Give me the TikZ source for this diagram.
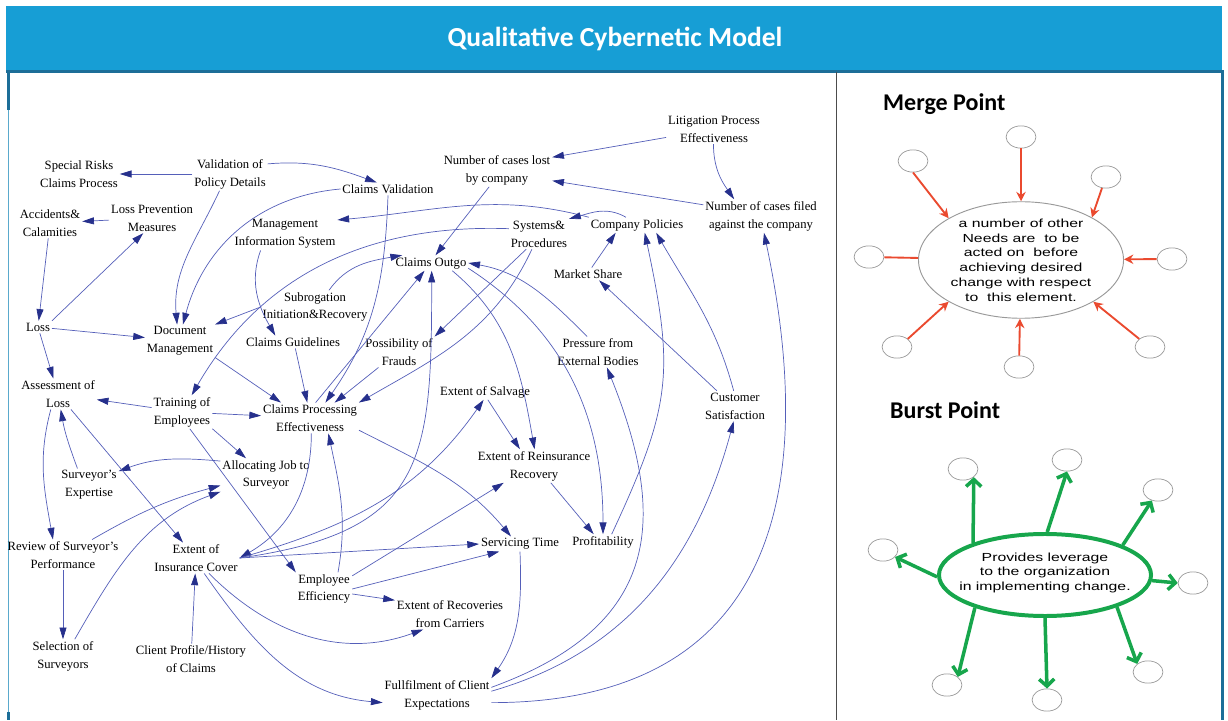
\documentclass[tikz,border=0pt]{standalone}
\usepackage{fontspec}
\setmainfont{Liberation Serif}
\newfontfamily\headfont{Carlito}
\newfontfamily\mergefont[FakeStretch=1.35]{Liberation Sans}
\usetikzlibrary{arrows.meta,shapes.geometric}

\definecolor{barblue}{HTML}{179ED5}
\definecolor{edgeblue}{HTML}{1C6E98}
\definecolor{sideblue}{HTML}{5AA9CC}
\definecolor{linkline}{RGB}{85,95,185}
\definecolor{tipnavy}{RGB}{38,48,140}
\definecolor{mergered}{HTML}{EA4A2F}
\definecolor{burstgreen}{HTML}{17A64C}
\definecolor{ringgray}{gray}{0.6}

\begin{document}
\begin{tikzpicture}[x=0.03cm, y=0.03cm,
    >={Triangle[length=10pt,width=6pt,color=tipnavy]},
    lbl/.style={align=center, inner sep=1.5pt, font=\fontsize{10.8}{15.3}\selectfont},
    lnk/.style={draw=linkline, line width=0.6pt, ->},
    head/.style={anchor=west, inner sep=0pt, font=\headfont\bfseries\fontsize{20.5}{24}\selectfont},
    sat/.style={ellipse, draw=ringgray, line width=0.6pt, minimum width=25.5pt, minimum height=19pt, inner sep=0pt},
    redarr/.style={draw=mergered, line width=1.6pt, -{Stealth[length=8pt,width=8pt]}},
    grnarr/.style={draw=burstgreen, line width=3pt, -{Straight Barb[length=6pt,width=13pt]}}]
  \useasboundingbox (0,0) rectangle (1228,720);

  % frame and title bar
  \fill[barblue] (6,650) rectangle (1222,714);
  \draw[edgeblue, line width=2.5pt] (6,648.5) -- (1224,648.5);
  \draw[sideblue, line width=0.8pt] (8,648) -- (8,0);
  \draw[edgeblue, line width=2.5pt] (8.5,648) -- (8.5,610) (8.5,8) -- (8.5,0);
  \draw[edgeblue, line width=2.5pt] (1222.5,648) -- (1222.5,0);
  \draw[black!70, line width=0.7pt] (836,648) -- (836,0);
  \node[text=white, font=\headfont\bfseries\fontsize{23.5}{28}\selectfont] (title) at (615,681) {Qualitative Cybernetic Model};

  % the model
  \node[lbl] (sr) at (79,546) {Special Risks\\Claims Process};
  \node[lbl] (vpd) at (230,546) {Validation of\\Policy Details};
  \node[lbl] (cv) at (388,531) {Claims Validation};
  \node[lbl] (ac) at (50,497) {Accidents\&\\Calamities};
  \node[lbl] (lpm) at (152,502) {Loss Prevention\\Measures};
  \node[lbl] (mis) at (285,486) {Management\\Information System};
  \node[lbl] (ncl) at (497,550) {Number of cases lost\\by company};
  \node[lbl] (lpe) at (714,591) {Litigation Process\\Effectiveness};
  \node[lbl] (ncf) at (761,504) {Number of cases filed\\against the company};
  \node[lbl] (sp) at (539,486) {Systems\&\\Procedures};
  \node[lbl] (cpol) at (637,495) {Company Policies};
  \node[lbl] (co) at (431,457) {Claims Outgo};
  \node[lbl] (ms) at (588,446) {Market Share};
  \node[lbl] (sir) at (315,413) {Subrogation\\Initiation\&Recovery};
  \node[lbl] (loss) at (38,393) {Loss};
  \node[lbl] (dm) at (180,379) {Document\\Management};
  \node[lbl] (cg) at (293,378) {Claims Guidelines};
  \node[lbl] (pof) at (399,368) {Possibility of\\Frauds};
  \node[lbl] (pfe) at (598,368) {Pressure from\\External Bodies};
  \node[lbl] (aol) at (58,326) {Assessment of\\Loss};
  \node[lbl] (toe) at (182,308) {Training of\\Employees};
  \node[lbl] (cpe) at (310,302) {Claims Processing\\Effectiveness};
  \node[lbl] (eos) at (485,328) {Extent of Salvage};
  \node[lbl] (cs) at (735,314) {Customer\\Satisfaction};
  \node[lbl] (err) at (534,254) {Extent of Reinsurance\\Recovery};
  \node[lbl] (se) at (89,235) {Surveyor's\\Expertise};
  \node[lbl] (ajs) at (266,245) {Allocating Job to\\Surveyor};
  \node[lbl] (rsp) at (63,165) {Review of Surveyor's\\Performance};
  \node[lbl] (eic) at (196,162) {Extent of\\Insurance Cover};
  \node[lbl] (st) at (520,176) {Servicing Time};
  \node[lbl] (prof) at (603,178) {Profitability};
  \node[lbl] (ee) at (324,131) {Employee\\Efficiency};
  \node[lbl] (erc) at (450,106) {Extent of Recoveries\\from Carriers};
  \node[lbl] (sos) at (63,64) {Selection of\\Surveyors};
  \node[lbl] (cph) at (191,61) {Client Profile/History\\of Claims};
  \node[lbl] (fce) at (437,25) {Fullfilment of Client\\Expectations};

  \draw[lnk] (vpd) -- (sr);
  \draw[lnk] (vpd.15) to[out=5,in=160] (cv.150);
  \draw[lnk] (vpd.-122) to[out=-115,in=95] (dm.100);
  \draw[lnk] (cv.west) to[out=185,in=75] (dm.80);
  \draw[lnk] (lpm) -- (ac);
  \draw[lnk] (ac) -- (loss);
  \draw[lnk] (loss.north east) -- (lpm.-120);
  \draw[lnk] (loss) -- (dm);
  \draw[lnk] (loss) -- (aol);
  \draw[lnk] (cpol.north west) to[out=165,in=5] (mis.15);
  \draw[lnk] (sp.170) to[out=178,in=60] (toe.60);
  \draw[lnk] (cpol.145) to[out=150,in=15] (sp.north east);
  \draw[lnk] (lpe.190) -- (ncl.13);
  \draw[lnk] (lpe.-92) to[out=-90,in=125] (ncf.148);
  \draw[lnk] (ncf.169) -- (ncl.-11);
  \draw[lnk] (ncl.-115) -- (co.60);
  \draw[lnk] (mis.214) to[out=-110,in=120] (cg.160);
  \draw[lnk] (sir.50) to[out=55,in=190] (co.165);
  \draw[lnk] (sir.west) -- (dm.north east);
  \draw[lnk] (cv.south) to[out=-92,in=55] (cpe.45);
  \draw[lnk] (pof.217) -- (cpe.32);
  \draw[lnk] (sp.-115) to[out=-115,in=30] (cpe.north east);
  \draw[lnk] (sp.-130) -- (pof.north east);
  \draw[lnk] (cpe.70) -- (co.230);
  \draw[lnk] (cg.-70) -- (cpe.100);
  \draw[lnk] (dm.south east) -- (cpe.152);
  \draw[lnk] (toe) -- (cpe);
  \draw[lnk] (toe) -- (aol);
  \draw[lnk] (toe.south east) -- (ajs.140);
  \draw[lnk] (toe.-65) -- (ee.north west);
  \draw[lnk] (ajs.163) to[out=175,in=20] (se.25);
  \draw[lnk] (se.125) to[out=110,in=-80] (aol.-80);
  \draw[lnk] (aol.-115) to[out=-105,in=100] (rsp.123);
  \draw[lnk] (aol.-50) -- (eic.130);
  \draw[lnk] (rsp.28) to[out=30,in=195] (ajs.193);
  \draw[lnk] (rsp) -- (sos);
  \draw[lnk] (sos.55) to[out=60,in=200] (ajs.south west);
  \draw[lnk] (cph) -- (eic);
  \draw[lnk] (cpe.-85) to[out=-90,in=30] (eic.east);
  \draw[lnk] (ee.50) to[out=80,in=-78] (cpe.-40);
  \draw[lnk] (eic.east) to[out=8,in=-90,looseness=1.4] (co.-85);
  \draw[lnk] (eic.east) to[out=16,in=-125] (eos.-100);
  \draw[lnk] (eic.east) -- (st.west);
  \draw[lnk] (ee.east) -- (st.200);
  \draw[lnk] (ee.25) -- (err.209);
  \draw[lnk] (ee.-10) -- (erc.166);
  \draw[lnk] (eic.-50) to[out=-45,in=200] (erc.-150);
  \draw[lnk] (eic.-62) to[out=-55,in=175] (fce.188);
  \draw[lnk] (cpe.-14) to[out=-27,in=130] (st.140);
  \draw[lnk] (st.south) to[out=-88,in=55] (fce.north east);
  \draw[lnk] (fce.8) to[out=20,in=-68,looseness=1.3] (pfe.-60);
  \draw[lnk] (fce.4) to[out=16,in=-105] (cs.-95);
  \draw[lnk] (fce.-8) to[out=0,in=-78,looseness=1.3] (ncf.-80);
  \draw[lnk] (prof.42) to[out=65,in=-78,looseness=1.2] (cpol.-45);
  \draw[lnk] (cs.95) to[out=105,in=-60] (cpol.-22);
  \draw[lnk] (cs.140) -- (ms.-30);
  \draw[lnk] (ms.60) -- (cpol.200);
  \draw[lnk] (co.-20) to[out=-40,in=100] (err.88);
  \draw[lnk] (co.-8) to[out=-33,in=90] (prof.north);
  \draw[lnk] (pfe.125) to[out=135,in=-10] (co.east);
  \draw[lnk] (eos.-70) -- (err.130);
  \draw[lnk] (err.-45) -- (prof.140);

  % merge point
  \node[head] (mhead) at (883,616) {Merge Point};
  \node[ellipse, draw=ringgray, line width=0.8pt, minimum width=175pt, minimum height=97pt, inner sep=0pt,
        font=\mergefont\fontsize{10}{12.6}\selectfont, align=center] (mc) at (1021,460)
    {a number of other\\Needs are~ to be\\acted on~ before\\achieving desired\\change with respect\\to~ this element.};
  \node[sat] (m1) at (1021,583) {};
  \node[sat] (m2) at (913,559) {};
  \node[sat] (m3) at (1106,543) {};
  \node[sat] (m4) at (869,463) {};
  \node[sat] (m5) at (1172,461) {};
  \node[sat] (m6) at (897,373) {};
  \node[sat] (m7) at (1019,353) {};
  \node[sat] (m8) at (1150,373) {};
  \draw[redarr] (m1) -- (mc);
  \draw[redarr] (m2.south) -- (mc.150);
  \draw[redarr] (m3.-110) -- (mc.31);
  \draw[mergered, line width=1.6pt] (m4) -- (mc);
  \draw[redarr] (m5) -- (mc);
  \draw[redarr] (m6.north east) -- (mc.210);
  \draw[redarr] (m7) -- (mc);
  \draw[redarr] (m8.north west) -- (mc.-30);

  % burst point
  \node[head] (bhead) at (890,310) {Burst Point};
  \node[ellipse, draw=burstgreen, line width=3.4pt, minimum width=181pt, minimum height=70pt, inner sep=0pt,
        label={[font=\mergefont\fontsize{10}{12.3}\selectfont, align=center, yshift=2pt]center:{Provides leverage\\to the organization\\in implementing change.}}] (bc) at (1045,145) {};
  \node[sat] (b1) at (963,251) {};
  \node[sat] (b2) at (1067,260) {};
  \node[sat] (b3) at (1158,230) {};
  \node[sat] (b4) at (883,170) {};
  \node[sat] (b5) at (1193,137) {};
  \node[sat] (b6) at (947,35) {};
  \node[sat] (b7) at (1047,20) {};
  \node[sat] (b8) at (1148,48) {};
  \draw[grnarr] (bc.156) -- (b1.south east);
  \draw[grnarr] (bc.87) -- (b2.south);
  \draw[grnarr] (bc.21) -- (b3.-120);
  \draw[grnarr] (bc.181) -- (b4.-30);
  \draw[grnarr] (bc.-3) -- (b5.west);
  \draw[grnarr] (bc.205) -- (b6.north east);
  \draw[grnarr] (bc.-90) -- (b7.north);
  \draw[grnarr] (bc.-24) -- (b8.north west);
\end{tikzpicture}
\end{document}
